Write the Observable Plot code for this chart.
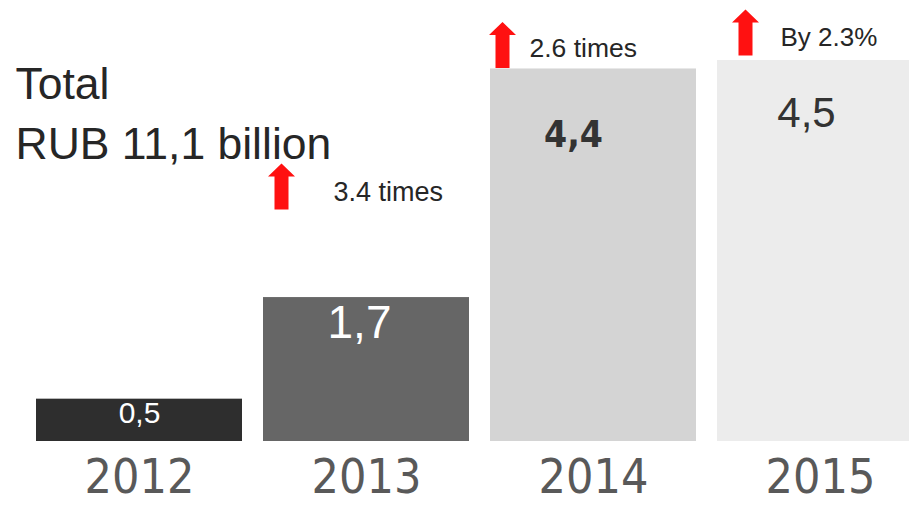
<!DOCTYPE html>
<html>
<head>
<meta charset="utf-8">
<script src="https://cdn.jsdelivr.net/npm/d3@7"></script>
<script src="https://cdn.jsdelivr.net/npm/@observablehq/plot@0.6"></script>
<style>
  html, body { margin: 0; padding: 0; background: #fff; overflow: hidden; }
  #chart svg { display: block; }
</style>
</head>
<body>
<div id="chart"></div>
<script>
// ---- data ----
const years = ["2012", "2013", "2014", "2015"];
const values = [0.5, 1.7, 4.4, 4.5];
const valueLabels = ["0,5", "1,7", "4,4", "4,5"];
const growthYears = ["2013", "2014", "2015"];
const growthLabels = ["3.4 times", "2.6 times", "By 2.3%"];
const titleLines = ["Total", "RUB 11,1 billion"];

// ---- tables built from the arrays ----
const bars = years.map((year, i) => ({ year, value: values[i], label: valueLabels[i] }));
const growth = growthYears.map((year, i) => ({ year, value: values[years.indexOf(year)], label: growthLabels[i] }));

// ---- styles ----
const condensed = "'Liberation Sans Narrow', 'DejaVu Sans Condensed', sans-serif";
const barColors = ["#2e2e2e", "#666666", "#d4d4d4", "#ececec"];
const valueStyle = {
  "2012": { fill: "#ffffff", fontSize: 30, dx: 0, dy: 14 },
  "2013": { fill: "#ffffff", fontSize: 46, dx: -7, dy: 26 },
  "2014": { fill: "#333333", fontSize: 37, dx: -20, dy: 66, fontWeight: "bold", fontFamily: condensed },
  "2015": { fill: "#333333", fontSize: 42, dx: -14, dy: 53 }
};
const arrowStyle = {
  "2013": { dx: -85, dy: -111 },
  "2014": { dx: -91, dy: -24 },
  "2015": { dx: -75, dy: -28 }
};
const growthTextStyle = {
  "2013": { dx: -33, dy: -105, fontSize: 27 },
  "2014": { dx: -64, dy: -20, fontSize: 26.5 },
  "2015": { dx: -40, dy: -23, fontSize: 26 }
};

// filled up-arrow symbol
const upArrow = {
  draw(context) {
    context.moveTo(0, -23);
    context.lineTo(13.5, -10);
    context.lineTo(7, -10);
    context.lineTo(7, 23);
    context.lineTo(-7, 23);
    context.lineTo(-7, -10);
    context.lineTo(-13.5, -10);
    context.closePath();
  }
};

const chart = Plot.plot({
  width: 909,
  height: 505,
  marginTop: 60,
  marginBottom: 64,
  marginLeft: 35,
  marginRight: 0,
  style: { fontFamily: "'Liberation Sans', Arial, sans-serif", background: "#ffffff" },
  x: { domain: years, range: [35, 925], paddingInner: 0.091, paddingOuter: 0 },
  y: { domain: [0, 4.5], axis: null },
  color: { domain: years, range: barColors },
  marks: [
    Plot.barY(bars, { x: "year", y: "value", fill: "year" }),
    Plot.axisX({
      tickSize: 0,
      tickPadding: 17,
      fontSize: 48,
      fill: "#595959",
      fontFamily: condensed,
      label: null
    }),
    ...years.map(yr => Plot.text(bars.filter(d => d.year === yr), {
      x: "year", y: "value", text: "label", ...valueStyle[yr]
    })),
    ...growthYears.map(yr => Plot.dot(growth.filter(d => d.year === yr), {
      x: "year", y: "value", symbol: upArrow, r: 1, fill: "#ff1111", stroke: null, ...arrowStyle[yr]
    })),
    ...growthYears.map(yr => Plot.text(growth.filter(d => d.year === yr), {
      x: "year", y: "value", text: "label", textAnchor: "start", fill: "#262626", ...growthTextStyle[yr]
    })),
    Plot.text([titleLines.join("\n")], {
      frameAnchor: "top-left", lineAnchor: "top", textAnchor: "start",
      dx: -20, dy: -4, fontSize: 44.5, lineHeight: 1.35, fill: "#262626"
    })
  ]
});
document.getElementById("chart").appendChild(chart);
</script>
</body>
</html>
